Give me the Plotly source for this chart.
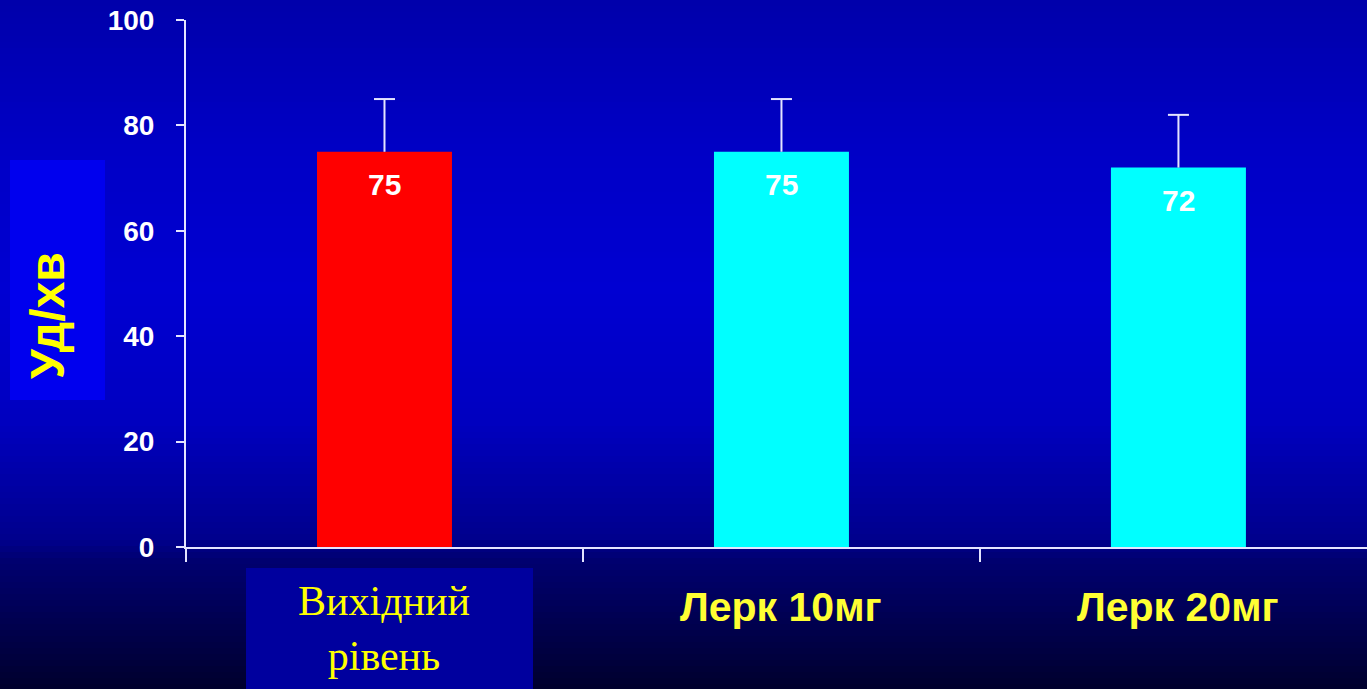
import plotly.graph_objects as go

# Data
categories = ["Вихідний рівень", "Лерк 10мг", "Лерк 20мг"]
heart_rate = [75, 75, 72]
error_upper = [10, 10, 10]
bar_colors = ["#ff0000", "#00ffff", "#00ffff"]
y_ticks = [0, 20, 40, 60, 80, 100]

W, H = 1367, 689
ML, MR, MT, MB = 186, 0, 20, 142
plot_w = W - ML - MR
plot_h = H - MT - MB


def px_to_paper_x(px):
    return (px - ML) / plot_w


def px_to_paper_y(py):
    return (H - MB - py) / plot_h


fig = go.Figure()

fig.add_trace(go.Bar(
    x=categories,
    y=heart_rate,
    width=0.34,
    marker=dict(color=bar_colors, line=dict(width=0)),
    hoverinfo="skip",
))

# Upper-only error whiskers: a stem from the bar top plus a cap marker
err_x, err_y = [], []
for cat, v, e in zip(categories, heart_rate, error_upper):
    err_x += [cat, cat, None]
    err_y += [v, v + e, None]
fig.add_trace(go.Scatter(x=err_x, y=err_y, mode="lines",
                         line=dict(color="#e4e4ff", width=2), hoverinfo="skip"))
fig.add_trace(go.Scatter(x=categories, y=[v + e for v, e in zip(heart_rate, error_upper)],
                         mode="markers",
                         marker=dict(symbol="line-ew", size=15,
                                     line=dict(color="#e4e4ff", width=2)),
                         hoverinfo="skip"))

# Vertical background gradient built from thin bands
stops = [(0, (0, 0, 170)), (150, (0, 0, 198)), (290, (0, 0, 210)),
         (420, (0, 0, 192)), (540, (0, 0, 140)), (560, (0, 0, 112)),
         (689, (0, 0, 45))]


def color_at(py):
    for (y0, c0), (y1, c1) in zip(stops[:-1], stops[1:]):
        if y0 <= py <= y1:
            t = (py - y0) / (y1 - y0)
            return "rgb(%d,%d,%d)" % tuple(round(a + (b - a) * t) for a, b in zip(c0, c1))
    return "rgb(0,0,45)"


shapes = []
step = 6
for py in range(0, H, step):
    shapes.append(dict(type="rect", xref="paper", yref="paper", layer="below",
                       x0=px_to_paper_x(0), x1=px_to_paper_x(W),
                       y0=px_to_paper_y(py + step + 1), y1=px_to_paper_y(py),
                       fillcolor=color_at(py + step / 2), line=dict(width=0)))

# Box behind the y-axis title
shapes.append(dict(type="rect", xref="paper", yref="paper", layer="below",
                   x0=px_to_paper_x(10), x1=px_to_paper_x(105),
                   y0=px_to_paper_y(400), y1=px_to_paper_y(160),
                   fillcolor="#0000ee", line=dict(width=0)))
# Box behind the first category label
shapes.append(dict(type="rect", xref="paper", yref="paper", layer="below",
                   x0=px_to_paper_x(246), x1=px_to_paper_x(533),
                   y0=px_to_paper_y(689), y1=px_to_paper_y(568),
                   fillcolor="#00009e", line=dict(width=0)))

annotations = []
# Value labels inside the bars
for cat, v in zip(categories, heart_rate):
    annotations.append(dict(x=cat, y=v, xref="x", yref="y", text="<b>%d</b>" % v,
                            showarrow=False, yanchor="middle", yshift=-33,
                            font=dict(family="Arial", size=30, color="white")))

# Category labels
annotations.append(dict(x=categories[0], xref="x", yref="paper", y=px_to_paper_y(628),
                        text="Вихідний<br>рівень", showarrow=False, yanchor="middle",
                        font=dict(family="Liberation Serif", size=42, color="#ffff00")))
for cat in categories[1:]:
    annotations.append(dict(x=cat, xref="x", yref="paper", y=px_to_paper_y(607),
                            text="<b>%s</b>" % cat, showarrow=False, yanchor="middle",
                            font=dict(family="Arial", size=41, color="#ffff33")))

# Y-axis title
annotations.append(dict(x=px_to_paper_x(47), y=px_to_paper_y(316), xref="paper", yref="paper",
                        xanchor="center", yanchor="middle",
                        text="<b>Уд/хв</b>", showarrow=False, textangle=-90,
                        font=dict(family="Arial", size=48, color="#ffff00")))

fig.update_layout(
    width=W, height=H,
    margin=dict(l=ML, r=MR, t=MT, b=MB),
    paper_bgcolor="#00008c",
    plot_bgcolor="rgba(0,0,0,0)",
    showlegend=False,
    shapes=shapes,
    annotations=annotations,
    xaxis=dict(type="category", range=[-0.5, 2.475], showgrid=False, zeroline=False,
               showline=True, linecolor="#e4e4ff", linewidth=2,
               ticks="outside", tickson="boundaries", ticklen=13, tickwidth=2,
               tickcolor="#e4e4ff", showticklabels=False),
    yaxis=dict(range=[0, 100], showgrid=False, zeroline=False,
               showline=True, linecolor="#e4e4ff", linewidth=2,
               ticks="outside", ticklen=8, tickwidth=2, tickcolor="#e4e4ff",
               ticklabelstandoff=16,
               tickvals=y_ticks, ticktext=["<b>%d</b>" % t for t in y_ticks],
               tickfont=dict(family="Arial", size=28, color="white")),
)

fig.write_html("out.html", config={"displayModeBar": False})
